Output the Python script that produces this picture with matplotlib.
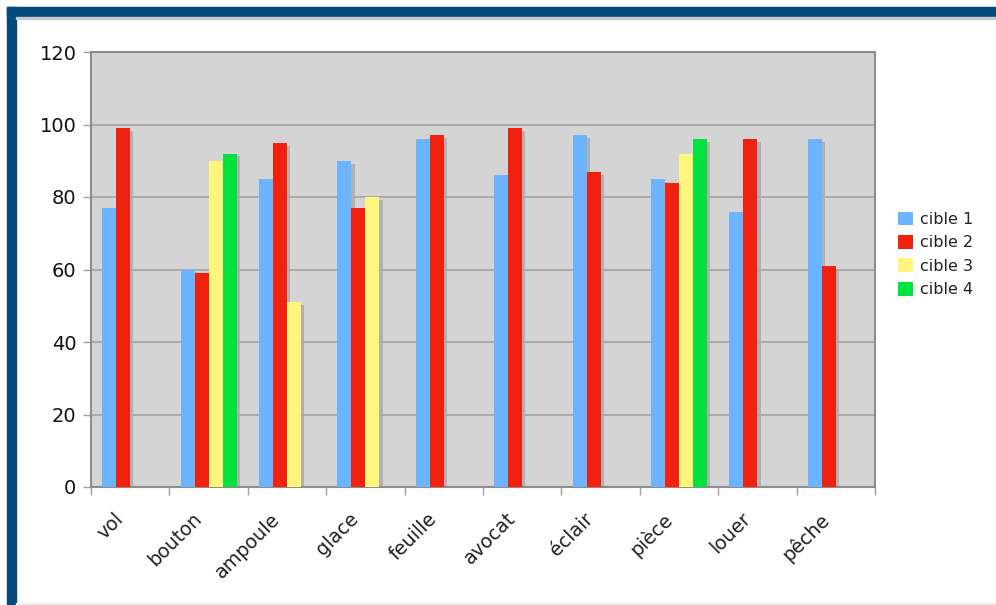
import numpy as np
import matplotlib
matplotlib.use("Agg")
import matplotlib.pyplot as plt
from matplotlib.patches import Rectangle

# data
categories = ["vol", "bouton", "ampoule", "glace", "feuille",
              "avocat", "éclair", "pièce", "louer", "pêche"]
cible1 = [77, 60, 85, 90, 96, 86, 97, 85, 76, 96]
cible2 = [99, 59, 95, 77, 97, 99, 87, 84, 96, 61]
cible3 = [np.nan, 90, 51, 80, np.nan, np.nan, np.nan, 92, np.nan, np.nan]
cible4 = [np.nan, 92, np.nan, np.nan, np.nan, np.nan, np.nan, 96, np.nan, np.nan]
series_names = ["cible 1", "cible 2", "cible 3", "cible 4"]
colors = ["#6cb4ff", "#f0220f", "#fff47c", "#00e33e"]

plt.rcParams['font.family'] = ['DejaVu Sans']

W, H = 996, 605
fig = plt.figure(figsize=(W / 100, H / 100), dpi=100)
fig.patch.set_facecolor("white")

# blue frame (top band + left band)
frame_col = "#054a7f"
fig.patches.append(Rectangle((7 / W, 1 - 17 / H), 1 - 7 / W, 10 / H,
                             transform=fig.transFigure, color=frame_col, zorder=0))
fig.patches.append(Rectangle((7 / W, 0), 9 / W, 1 - 7 / H,
                             transform=fig.transFigure, color=frame_col, zorder=0))
fig.patches.append(Rectangle((16 / W, 1 - 19 / H), 1 - 16 / W, 2 / H,
                             transform=fig.transFigure, color="#c8c8c8", zorder=0))
fig.patches.append(Rectangle((16 / W, 0), 1 - 16 / W, 2 / H,
                             transform=fig.transFigure, color="#eeeeee", zorder=0))

ax = fig.add_axes([91 / W, 1 - 487 / H, 784 / W, 435 / H])
ax.set_facecolor("#d4d4d4")

x = np.arange(len(categories))
bw = 0.179
start = -2 * bw + bw / 2
all_series = [cible1, cible2, cible3, cible4]

for i, (vals, name, col) in enumerate(zip(all_series, series_names, colors)):
    vals = np.array(vals, dtype=float)
    ok = ~np.isnan(vals)
    pos = x[ok] + start + i * bw
    # shadow
    ax.bar(pos + 0.04, vals[ok] - 0.8, width=bw, color="#a9a9a9", alpha=0.8,
           zorder=2, linewidth=0)
    ax.bar(pos, vals[ok], width=bw, color=col, zorder=3, linewidth=0, label=name)

ax.set_xlim(-0.5, len(categories) - 0.5)
ax.set_ylim(0, 120)
ax.set_yticks(range(0, 121, 20))
ax.yaxis.grid(True, color="#a3a3a3", linewidth=1.2, zorder=1)
ax.set_axisbelow(True)

# x ticks on category boundaries, labels drawn as rotated text
ax.set_xticks(np.arange(-0.5, len(categories), 1.0))
ax.set_xticklabels([])
ax.tick_params(axis="x", which="major", length=6, color="#a0a0a0", width=1)
for xi, cat in zip(x, categories):
    ax.annotate(cat, xy=(xi, 0), xycoords=("data", "axes fraction"),
                xytext=(-12, -16), textcoords="offset points",
                rotation=45, ha="right", va="top", rotation_mode="anchor",
                fontsize=13.8, color="#222222", annotation_clip=False)

ax.tick_params(axis="y", length=6, color="#a0a0a0", width=1, labelsize=14,
               labelcolor="#111111", pad=4.5)

for s in ax.spines.values():
    s.set_color("#8c8c8c")
    s.set_linewidth(1.5)

leg = ax.legend(loc="upper left", bbox_to_anchor=(1.029, 0.633), frameon=False,
                fontsize=11.5, handlelength=0.95, handleheight=0.95,
                handletextpad=0.45, labelspacing=0.5, borderaxespad=0,
                borderpad=0)
for t in leg.get_texts():
    t.set_color("#222222")

fig.savefig("out.png", dpi=100)
